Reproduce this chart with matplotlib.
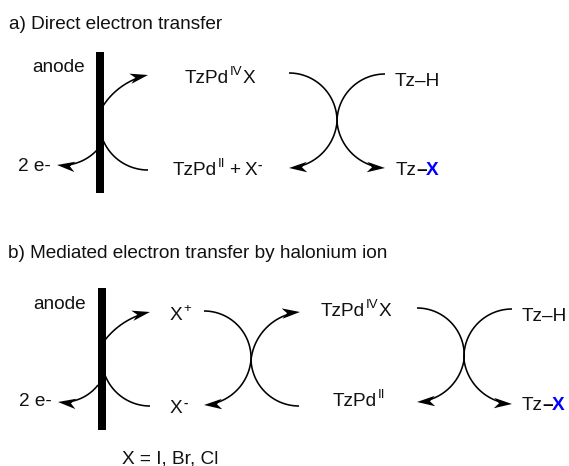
"""Redraw of the direct / mediated electron transfer scheme. Coordinates are image pixels."""
import matplotlib
matplotlib.use("Agg")
import numpy as np
import matplotlib.pyplot as plt
from matplotlib.patches import PathPatch, Polygon, Rectangle
from matplotlib.path import Path

plt.rcParams["font.family"] = ["Liberation Sans", "DejaVu Sans"]

WIDTH, HEIGHT = 569, 466
FONT = 13.65
SUP = 9.5
BLUE = "#0000ff"

# electrodes: x, top, width, height
bars = [(96, 52, 8, 141), (98, 288, 8, 142)]

# arcs: outer x, outer y, inner x, inner y, tilt of the arrowhead in degrees (None = no head)
arcs = [
    (148, 75, 103, 106, 12),
    (148, 170, 103, 140, None),
    (57, 165, 97, 150, -6),
    (289, 73, 337, 122, None),
    (289, 168, 337, 122, 3),
    (385, 74, 337, 122, None),
    (385, 168, 337, 122, 3),
    (150, 312, 105, 340, 12),
    (150, 406, 105, 375, None),
    (58, 402, 98, 385, -6),
    (204, 311, 251, 360, None),
    (204, 405, 251, 360, 3),
    (300, 312, 251, 360, 5),
    (299, 406, 251, 360, None),
    (417, 308, 464, 360, None),
    (417, 402, 464, 360, 3),
    (512, 309, 464, 360, None),
    (512, 404, 464, 360, 3),
]

# plain labels: x, baseline y, text
labels = [
    (9, 29, "a) Direct electron transfer"),
    (8, 258, "b) Mediated electron transfer by halonium ion"),
    (32, 72, "anode"),
    (33, 309, "anode"),
    (18, 171, "2 e-"),
    (19, 406, "2 e-"),
    (395, 86, "Tz–H"),
    (522, 321, "Tz–H"),
    (122, 464, "X = I, Br, Cl"),
]

# labels in pieces: x, baseline y, [(text, style), ...]
pieces = [
    (185, 83, [("TzPd", "n"), ("IV", "s"), ("X", "n")]),
    (173, 175, [("TzPd", "n"), ("II", "s"), ("+", "g"), ("X", "g"), ("-", "b")]),
    (396, 175, [("Tz", "n"), ("–", "d"), ("X", "x")]),
    (170, 320, [("X", "n"), ("+", "s")]),
    (170, 413, [("X", "n"), ("-", "b")]),
    (321, 316, [("TzPd", "n"), ("IV", "s"), ("X", "n")]),
    (333, 406, [("TzPd", "n"), ("II", "s")]),
    (522, 410, [("Tz", "n"), ("–", "d"), ("X", "x")]),
]


def draw_arc(ax, ox, oy, ix, iy, tilt):
    # circular arc leaving the outer end nearly horizontally
    arrow = tilt is not None
    tip = np.array([ox, oy], float)
    chord = np.array([ix, iy], float) - tip
    rad = np.radians(tilt if arrow else 0)
    tangent = np.array([np.sign(chord[0]) * np.cos(rad), np.sign(chord[1]) * np.sin(rad)])
    length = np.linalg.norm(chord)
    phi = np.arccos(np.clip(tangent @ chord / length, -1, 1))
    radius = length / (2 * np.sin(phi))
    side = np.sign(tangent[0] * chord[1] - tangent[1] * chord[0])
    normal = side * np.array([-tangent[1], tangent[0]])
    centre = tip + radius * normal
    angles = np.linspace(0, 2 * phi, 60) * side
    cos, sin = np.cos(angles), np.sin(angles)
    rel = tip - centre
    pts = centre + np.column_stack([cos * rel[0] - sin * rel[1], sin * rel[0] + cos * rel[1]])
    if arrow:
        pts = pts[np.linalg.norm(pts - tip, axis=1) > 10]
    ax.add_patch(PathPatch(Path(pts), fc="none", ec="black", lw=1.15, capstyle="butt"))
    if arrow:
        direction = -tangent
        perp = np.array([-direction[1], direction[0]])
        back = tip - direction * 18
        head = [tip, back + perp * 5.2, tip - direction * 13, back - perp * 5.2]
        ax.add_patch(Polygon(head, closed=True, fc="black", ec="none"))


def draw_pieces(ax, renderer, x, y, parts):
    for text, style in parts:
        kw = {"fontsize": FONT, "color": "#111111", "va": "baseline", "ha": "left"}
        yy = y
        gap = 0.5
        if style == "s":
            kw["fontsize"] = SUP
            yy = y - 8
        elif style == "b":
            kw["fontsize"] = SUP
            kw["fontweight"] = "bold"
            yy = y - 6
        elif style == "g":
            x += 3.5
        elif style == "d":
            # the bond touches both neighbours
            x -= 1.5
            gap = -0.5
            kw["fontweight"] = "bold"
            kw["color"] = "black"
        elif style == "x":
            kw["fontweight"] = "bold"
            kw["color"] = BLUE
        t = ax.text(x, yy, text, **kw)
        x = t.get_window_extent(renderer).x1 + gap


fig = plt.figure(figsize=(WIDTH / 100, HEIGHT / 100), dpi=100)
ax = fig.add_axes([0, 0, 1, 1])
ax.set_xlim(0, WIDTH)
ax.set_ylim(HEIGHT, 0)
ax.axis("off")
renderer = fig.canvas.get_renderer()

for x, top, w, h in bars:
    ax.add_patch(Rectangle((x, top), w, h, fc="black", ec="none"))

for ox, oy, ix, iy, tilt in arcs:
    draw_arc(ax, ox, oy, ix, iy, tilt)

for x, y, text in labels:
    ax.text(x, y, text, fontsize=FONT, va="baseline", ha="left", color="#111111")

for x, y, parts in pieces:
    draw_pieces(ax, renderer, x, y, parts)

fig.savefig("out.png", dpi=100)
